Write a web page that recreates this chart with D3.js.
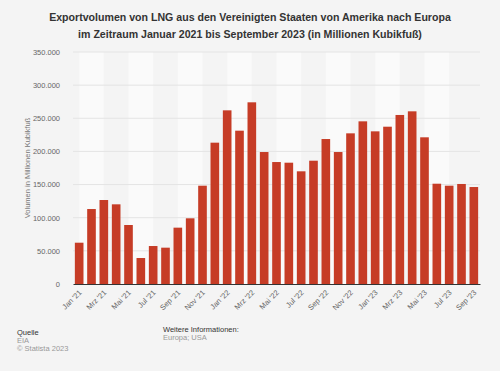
<!DOCTYPE html>
<meta charset="utf-8">
<style>
    body { margin: 0; background: #f4f4f4; }
    svg { font-family: "Liberation Sans", Arial, sans-serif; }
    .grid line { stroke: #e4e4e4; stroke-width: 1; }
    .tick text { fill: #666; }
</style>
<svg width="500" height="371"></svg>
<script src="https://cdn.jsdelivr.net/npm/d3@7"></script>
<script>

    // monthly data, Jan 2021 - Sep 2023
    var months = ["Jan '21", "Feb '21", "Mrz '21", "Apr '21", "Mai '21", "Jun '21", "Jul '21", "Aug '21", "Sep '21", "Okt '21", "Nov '21", "Dez '21",
        "Jan '22", "Feb '22", "Mrz '22", "Apr '22", "Mai '22", "Jun '22", "Jul '22", "Aug '22", "Sep '22", "Okt '22", "Nov '22", "Dez '22",
        "Jan '23", "Feb '23", "Mrz '23", "Apr '23", "Mai '23", "Jun '23", "Jul '23", "Aug '23", "Sep '23"];
    var volumes = [62300, 113100, 126700, 120200, 89000, 39200, 57300, 54800, 85000, 99100, 148300, 213200,
        262000, 231300, 274100, 199100, 184000, 183000, 170000, 186000, 218700, 199100, 227300, 245400,
        230300, 237300, 255000, 260500, 221300, 151300, 148300, 150900, 146300];
    var yTicks = [0, 50000, 100000, 150000, 200000, 250000, 300000, 350000];

    var svg = d3.select("svg");
    var margin = {left: 73, right: 20, top: 52, bottom: 87};
    var width = 500 - margin.left - margin.right, height = 371 - margin.top - margin.bottom;

    var x = d3.scaleBand().domain(months).range([margin.left, margin.left + width]).paddingInner(0.3).paddingOuter(0.15);
    var y = d3.scaleLinear().domain([0, 350000]).range([margin.top + height, margin.top]);
    var fmt = function (v) { return d3.format(",")(v).replace(/,/g, "."); };

    // title
    var title = svg.append("g").attr("font-weight", "bold").attr("font-size", "10.6px").attr("fill", "#333").attr("text-anchor", "middle");
    title.append("text").attr("x", 250).attr("y", 21).text("Exportvolumen von LNG aus den Vereinigten Staaten von Amerika nach Europa");
    title.append("text").attr("x", 250).attr("y", 38).text("im Zeitraum Januar 2021 bis September 2023 (in Millionen Kubikfuß)");

    // alternating stripes between every second tick
    var center = function (i) { return x(months[i]) + x.bandwidth() / 2; };
    var stripes = d3.range(0, months.length - 2, 4);
    svg.append("g").selectAll("rect").data(stripes).enter().append("rect")
        .attr("x", function (i) { return center(i); })
        .attr("width", function (i) { return center(i + 2) - center(i); })
        .attr("y", margin.top).attr("height", height)
        .attr("fill", "#fafafa");

    // grid
    svg.append("g").attr("class", "grid").selectAll("line").data(yTicks.slice(1)).enter().append("line")
        .attr("x1", margin.left).attr("x2", margin.left + width)
        .attr("y1", function (d) { return y(d); }).attr("y2", function (d) { return y(d); });

    // y axis
    var yAxis = svg.append("g").attr("transform", "translate(62,0)")
        .call(d3.axisLeft(y).tickValues(yTicks).tickFormat(fmt).tickSize(0));
    yAxis.select(".domain").remove();
    yAxis.selectAll("text").attr("font-size", "7.5px").attr("fill", "#777").attr("x", -2);

    svg.append("text").attr("transform", "translate(30," + (margin.top + height / 2) + ") rotate(-90)")
        .attr("text-anchor", "middle").attr("font-size", "7.5px").attr("fill", "#777")
        .text("Volumen in Millionen Kubikfuß");

    // bars
    svg.append("g").selectAll("rect").data(volumes).enter().append("rect")
        .attr("x", function (d, i) { return x(months[i]); })
        .attr("width", x.bandwidth())
        .attr("y", function (d) { return y(d); })
        .attr("height", function (d) { return y(0) - y(d); })
        .attr("fill", "#c63c26");

    // x axis
    var xAxis = svg.append("g").attr("transform", "translate(0," + y(0) + ")")
        .call(d3.axisBottom(x).tickValues(months.filter(function (m, i) { return i % 2 === 0; })).tickSize(0));
    xAxis.select(".domain").attr("stroke", "#333").attr("stroke-width", 1.2);
    xAxis.selectAll("text").attr("font-size", "7.5px").attr("fill", "#777")
        .attr("text-anchor", "end").attr("dy", 0).attr("y", 0)
        .attr("transform", "translate(3,9) rotate(-45)");

    // footer
    var foot = svg.append("g").attr("font-size", "7.5px");
    foot.append("text").attr("x", 17).attr("y", 335).attr("fill", "#333").text("Quelle");
    foot.append("text").attr("x", 17).attr("y", 343).attr("fill", "#999").text("EIA");
    foot.append("text").attr("x", 17).attr("y", 351).attr("fill", "#999").text("© Statista 2023");
    foot.append("text").attr("x", 163).attr("y", 332).attr("fill", "#333").text("Weitere Informationen:");
    foot.append("text").attr("x", 163).attr("y", 340).attr("fill", "#999").text("Europa; USA");

</script>
